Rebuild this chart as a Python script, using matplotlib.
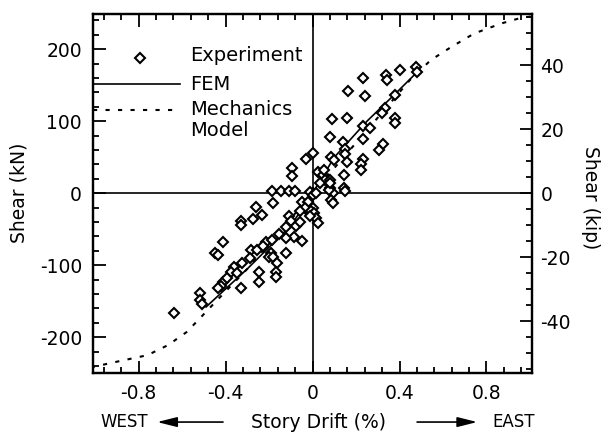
import matplotlib
matplotlib.use("Agg")
import matplotlib.pyplot as plt
from matplotlib.ticker import MultipleLocator

# experiment points: story drift (%) and shear (kN)
exp_drift = [0.474, 0.48, 0.40, 0.34, 0.344, 0.233, 0.163, 0.242, 0.38, 0.335,
             0.32, 0.377, 0.377, 0.088, 0.158, 0.233, 0.265, 0.079, 0.14, 0.233,
             0.326, 0.307, 0.149, 0.084, 0.149, 0.098, 0.158, 0.233, 0.223, 0.223,
             0.144, 0.144, 0.149, 0.0, -0.028, 0.023, 0.047, 0.056, 0.079, 0.033,
             0.079, 0.093, 0.084, 0.093, 0.0, 0.051, 0.074, 0.079,
             -0.047, 0.0, -0.014, -0.014, 0.0, 0.018, -0.023, -0.037, -0.06, -0.005,
             0.005, 0.014, 0.023, -0.014,
             -0.093, -0.093, -0.186, -0.145, -0.11, -0.08,
             -0.181, -0.26, -0.233, -0.274, -0.33, -0.33, -0.41, -0.447, -0.433, -0.284,
             -0.256, -0.214, -0.186, -0.153, -0.107, -0.098, -0.074, -0.12, -0.084, -0.05,
             -0.12, -0.19, -0.12, -0.2, -0.181, -0.326, -0.363, -0.377, -0.349, -0.41,
             -0.42, -0.433, -0.33, -0.247, -0.247, -0.163, -0.167, -0.167, -0.516, -0.516,
             -0.51, -0.637, -0.29, -0.395, -0.23, -0.06]
exp_shear = [175, 168, 171, 164, 157, 160, 142, 135, 136, 118,
             111, 104, 97, 103, 105, 93, 90, 78, 71, 76,
             68, 60, 62, 50, 55, 46, 43, 47, 40, 32,
             25, 7, 3, 56, 47, 29, 25, 18, 18, 14,
             7, 0, -10, -14, 0, 32, 4, 14,
             -12, -21, -28, 2, -3, 0, -12, -21, -24, -24,
             -28, -35, -42, -31,
             35, 24, 3, 3, 3, 3,
             -14, -19, -30, -36, -39, -44, -68, -83, -86, -79,
             -79, -68, -65, -56, -31, -38, -46, -47, -61, -66,
             -62, -83, -83, -88, -89, -97, -103, -110, -111, -124,
             -129, -132, -132, -124, -110, -97, -110, -117, -139, -149,
             -154, -167, -90, -118, -73, -40]

fem_drift = [-0.49, -0.3, -0.1, 0.0, 0.1, 0.25, 0.38, 0.48]
fem_shear = [-158, -105, -45, 0, 50, 100, 138, 168]

mech_drift = [-1.02, -0.9, -0.76, -0.665, -0.58, -0.535, -0.45, -0.3, 0.0,
              0.3, 0.45, 0.544, 0.637, 0.744, 0.87, 0.963, 1.02]
mech_shear = [-242, -234, -225, -211, -193, -179, -152, -105, 0,
              105, 158, 185, 203, 222, 236, 244, 246]

KIP = 4.448

plt.rcParams['font.family'] = ['DejaVu Sans']
fig = plt.figure(figsize=(6.04, 4.37), dpi=100)
ax = fig.add_axes([0.154, 0.146, 0.727, 0.822])

ax.axhline(0, color='black', lw=1.2)
ax.axvline(0, color='black', lw=1.2)
ax.plot(mech_drift, mech_shear, color='black', lw=1.5, linestyle=(0, (2, 4)))
ax.plot(fem_drift, fem_shear, color='black', lw=1.2)
ax.plot(exp_drift, exp_shear, linestyle='none', marker='D', ms=5.2,
        mfc='white', mec='black', mew=1.5)

ax.set_xlim(-1.01, 1.01)
ax.set_ylim(-250, 249)
ax.xaxis.set_major_locator(MultipleLocator(0.4))
ax.xaxis.set_minor_locator(MultipleLocator(0.08))
ax.yaxis.set_major_locator(MultipleLocator(100))
ax.yaxis.set_minor_locator(MultipleLocator(20))
ax.set_xticks([-0.8, -0.4, 0, 0.4, 0.8])
ax.set_xticklabels(['-0.8', '-0.4', '0', '0.4', '0.8'])
ax.set_yticks([-200, -100, 0, 100, 200])
ax.set_yticklabels(['-200', '-100', '0', '100', '200'])
ax.tick_params(which='both', direction='in', top=True, right=False, width=1.3,
               labelsize=13.5)
ax.tick_params(which='major', length=9)
ax.tick_params(which='minor', length=4.5)
ax.tick_params(axis='x', pad=8)
ax.tick_params(axis='y', pad=8)
for s in ax.spines.values():
    s.set_linewidth(1.6)

ax2 = ax.twinx()
ax2.set_ylim(-250 / KIP, 249 / KIP)
ax2.yaxis.set_major_locator(MultipleLocator(20))
ax2.yaxis.set_minor_locator(MultipleLocator(5))
ax2.set_yticks([-40, -20, 0, 20, 40])
ax2.set_yticklabels(['-40', '-20', '0', '20', '40'])
ax2.tick_params(which='both', direction='in', width=1.3, labelsize=13.5, pad=6)
ax2.tick_params(which='major', length=9)
ax2.tick_params(which='minor', length=4.5)
for s in ax2.spines.values():
    s.set_linewidth(1.6)

ax.set_ylabel('Shear (kN)', fontsize=13.5)
ax.yaxis.set_label_coords(-0.148, 0.501)
ax2.set_ylabel('Shear (kip)', fontsize=13.5, rotation=-90, va='center')
ax2.yaxis.set_label_coords(1.132, 0.49)

# legend drawn by hand
ax.plot([0.107], [0.877], transform=ax.transAxes, marker='D', ms=5.2,
        mfc='white', mec='black', mew=1.5, linestyle='none')
ax.plot([0, 0.198], [0.805, 0.805], transform=ax.transAxes, color='black', lw=1.2)
ax.plot([0, 0.198], [0.733, 0.733], transform=ax.transAxes, color='black',
        lw=1.5, linestyle=(0, (2, 4)))
ax.text(0.221, 0.884, 'Experiment', transform=ax.transAxes, fontsize=14, va='center')
ax.text(0.221, 0.805, 'FEM', transform=ax.transAxes, fontsize=14, va='center')
ax.text(0.221, 0.733, 'Mechanics', transform=ax.transAxes, fontsize=14, va='center')
ax.text(0.221, 0.675, 'Model', transform=ax.transAxes, fontsize=14, va='center')

# x label with direction arrows
ax.text(0.513, -0.136, 'Story Drift (%)', transform=ax.transAxes, fontsize=13.5,
        ha='center', va='center')
ax.text(0.071, -0.136, 'WEST', transform=ax.transAxes, fontsize=12,
        ha='center', va='center')
ax.text(0.959, -0.136, 'EAST', transform=ax.transAxes, fontsize=12,
        ha='center', va='center')
arrow = dict(arrowstyle='-|>,head_length=1.2,head_width=0.3', color='black',
             lw=1.2, shrinkA=0, shrinkB=0)
ax.annotate('', xy=(0.146, -0.136), xytext=(0.296, -0.136),
            xycoords='axes fraction', arrowprops=arrow, annotation_clip=False)
ax.annotate('', xy=(0.875, -0.136), xytext=(0.738, -0.136),
            xycoords='axes fraction', arrowprops=arrow, annotation_clip=False)

plt.savefig('out.png', dpi=100)
